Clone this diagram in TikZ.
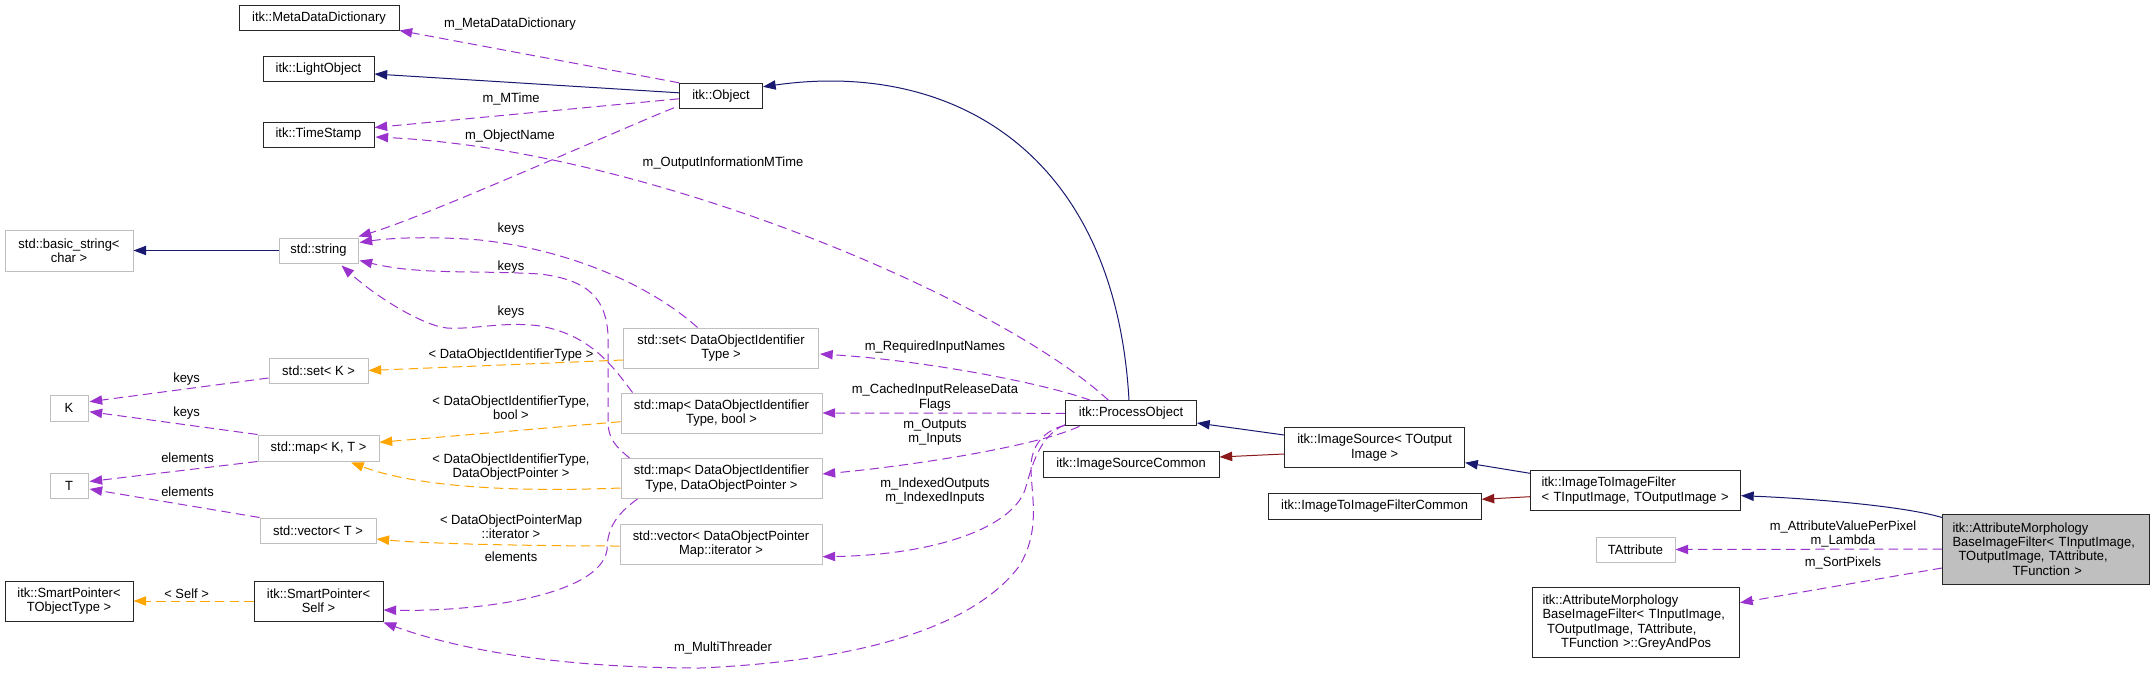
\documentclass[tikz,border=0pt]{standalone}
\usepackage{fontspec}
\setmainfont{Liberation Sans}[FakeStretch=0.97]
\usetikzlibrary{arrows.meta,calc}
\definecolor{navy}{HTML}{191970}
\definecolor{purp}{HTML}{9A32CD}
\definecolor{orng}{HTML}{FFA500}
\definecolor{dred}{HTML}{8B1A1A}
\definecolor{gborder}{HTML}{BFBFBF}
\definecolor{mainfill}{HTML}{BFBFBF}
\newcommand{\fsz}{\fontsize{10pt}{10.8pt}\selectfont}
\begin{document}
\begin{tikzpicture}[x=0.75pt,y=-0.75pt,
  base/.style={draw=black!85, line width=0.75pt, fill=white, inner sep=0pt, align=center, font=\fsz},
  ug/.style={base, draw=gborder},
  sz/.style 2 args={minimum width=#1*0.75pt, minimum height=#2*0.75pt},
  inh/.style={draw=navy, line width=0.75pt, -{Triangle[length=9.5pt,width=7pt]}},
  inhred/.style={inh, draw=dred},
  mem/.style={draw=purp, line width=0.75pt, dash pattern=on 7pt off 4pt, -{Triangle[length=9.5pt,width=7pt]}},
  tpl/.style={mem, draw=orng},
  lbl/.style={font=\fsz, inner sep=0pt, align=center}]
\fill[white] (0,0) rectangle (2155,674);
\useasboundingbox (0,0) rectangle (2155,674);

% nodes
\node[base, sz={160}{25}] (meta) at (319,18.5) {itk::MetaDataDictionary};
\node[base, sz={111}{25}] (light) at (318.5,69.5) {itk::LightObject};
\node[base, sz={111}{25}] (ts) at (318.5,134.5) {itk::TimeStamp};
\node[base, sz={83}{25}] (obj) at (721,95.8) {itk::Object};
\node[ug, sz={128}{41}] (bstr) at (69,250.5) {std::basic\_string<\\char >};
\node[ug, sz={79}{25}] (str) at (318.5,250.5) {std::string};
\node[ug, sz={195}{40}] (setdoi) at (721,348) {std::set< DataObjectIdentifier\\Type >};
\node[ug, sz={99}{25}] (setk) at (318.5,370.5) {std::set< K >};
\node[ug, sz={38}{26}] (K) at (69,408) {K};
\node[ug, sz={121}{26}] (mapkt) at (318.5,448) {std::map< K, T >};
\node[ug, sz={38}{25}] (T) at (69,485.5) {T};
\node[ug, sz={201}{40}] (mapbool) at (721.5,413) {std::map< DataObjectIdentifier\\Type, bool >};
\node[ug, sz={201}{40}] (mapdop) at (721.5,478.5) {std::map< DataObjectIdentifier\\Type, DataObjectPointer >};
\node[ug, sz={116}{25}] (vect) at (318,530.5) {std::vector< T >};
\node[ug, sz={202}{40}] (vecdop) at (721,544) {std::vector< DataObjectPointer\\Map::iterator >};
\node[base, sz={128}{40}] (spT) at (69,601) {itk::SmartPointer<\\TObjectType >};
\node[base, sz={129}{40}] (spS) at (318.5,601) {itk::SmartPointer<\\Self >};
\node[base, sz={131}{25}] (po) at (1131,413.3) {itk::ProcessObject};
\node[base, sz={176}{26}] (isc) at (1131,464) {itk::ImageSourceCommon};
\node[base, sz={180}{40}] (is) at (1374.6,447.7) {itk::ImageSource< TOutput\\Image >};
\node[base, sz={213}{26}] (itifc) at (1374.6,506) {itk::ImageToImageFilterCommon};
\node[base, text width=141pt, inner xsep=8.25pt, align=left, minimum height=30pt] (itif) at (1635.5,490.7) {\mbox{itk::ImageToImageFilter}\\\mbox{< TInputImage, TOutputImage >}};
\node[ug, sz={79}{25}] (tattr) at (1635.5,549.5) {TAttribute};
\node[base, text width=140.25pt, inner xsep=7.5pt, align=left, minimum height=52.5pt] (gap) at (1636,622.5) {\mbox{itk::AttributeMorphology}\\\mbox{BaseImageFilter< TInputImage,}\\\mbox{\hspace*{3.5pt}TOutputImage, TAttribute,}\\\mbox{\hspace*{14pt}TFunction >::GreyAndPos}};
\node[base, fill=mainfill, text width=140.25pt, inner xsep=7.5pt, align=left, minimum height=52.5pt] (main) at (2046,549) {\mbox{itk::AttributeMorphology}\\\mbox{BaseImageFilter< TInputImage,}\\\mbox{\hspace*{4.5pt}TOutputImage, TAttribute,}\\\mbox{\hspace*{45pt}TFunction >}};

% edges
\draw[inh] ($(obj.west)+(0,-3)$) -- ($(light.east)+(0,4.5)$);
\draw[mem] (obj.north west) -- ($(meta.south east)+(0,-1)$);
\draw[mem] ($(obj.west)+(0,3)$) -- ($(ts.east)+(0,-7)$);
\draw[mem] ($(obj.south west)+(-5,-1)$) .. controls (630,125) and (430,215) .. ($(str.north east)+(0,-1)$);
\draw[mem] ($(po.north west)+(43.5,0)$) .. controls (1000,300) and (650,150) .. ($(ts.east)+(1,2.5)$);
\draw[inh] ($(po.north)+(-2,0)$) .. controls (1115,150) and (950,60) .. ($(obj.east)+(0,-9)$);
\draw[mem] ($(setdoi.north west)+(74.5,0)$) .. controls (650,285) and (570,250) .. (480,240) .. controls (430,236) and (390,238) .. ($(str.east)+(1,-8)$);
\draw[mem] ($(mapdop.north west)+(9,0)$) .. controls (614,445) and (608,438) .. (608,420) -- (608,335) .. controls (606,300) and (590,280) .. (540,274) .. controls (470,270) and (420,275) .. ($(str.east)+(1,10)$);
\draw[mem] ($(mapbool.north west)+(12,0)$) .. controls (612,365) and (590,335) .. (540,326) .. controls (505,321) and (470,330) .. (447,328) .. controls (425,326) and (380,300) .. ($(str.south east)+(-17,2)$);
\draw[inh] (str.west) -- (bstr.east);
\draw[tpl] ($(setdoi.west)+(0,12)$) -- (setk.east);
\draw[mem] ($(setk.west)+(0,7.5)$) -- ($(K.east)+(1,-6.3)$);
\draw[mem] (mapkt.north west) -- ($(K.east)+(1,3.7)$);
\draw[mem] (mapkt.south west) -- ($(T.east)+(1,-4)$);
\draw[mem] (vect.north west) -- ($(T.east)+(1,3.5)$);
\draw[tpl] ($(mapbool.west)+(0,8.7)$) -- ($(mapkt.east)+(0,-5.7)$);
\draw[tpl] ($(mapdop.west)+(0,9.5)$) .. controls (520,492) and (420,488) .. ($(mapkt.south east)+(-28.5,1)$);
\draw[tpl] ($(vecdop.west)+(0,2)$) .. controls (540,546) and (430,544) .. ($(vect.east)+(0,8.5)$);
\draw[mem] ($(mapdop.south west)+(17,0)$) .. controls (615,515) and (607,530) .. (607,550) .. controls (600,595) and (480,612) .. ($(spS.east)+(0,9)$);
\draw[tpl] (spS.west) -- (spT.east);
\draw[mem] ($(po.south west)+(0,-1)$) .. controls (1045,430) and (1030,445) .. (1031,470) .. controls (1032,500) and (1040,530) .. (1020,565) .. controls (980,620) and (880,660) .. (700,668) .. controls (560,668) and (460,650) .. ($(spS.south east)+(0,1)$);
\draw[mem] ($(po.north west)+(25.5,0)$) .. controls (1040,382) and (920,360) .. ($(setdoi.east)+(1,6)$);
\draw[mem] (po.west) -- (mapbool.east);
\draw[mem] ($(po.south west)+(14.5,0)$) .. controls (1040,445) and (920,465) .. ($(mapdop.east)+(0,-4.5)$);
\draw[mem] ($(po.south west)+(0,-1.5)$) .. controls (1040,435) and (1032,465) .. (1025,490) .. controls (1010,530) and (930,555) .. ($(vecdop.east)+(0,12.7)$);
\draw[inh] ($(is.west)+(0,-12.7)$) -- ($(po.east)+(0,9.7)$);
\draw[inhred] ($(is.west)+(0,6.3)$) -- ($(isc.east)+(0,-7)$);
\draw[inh] ($(itif.west)+(0,-17.4)$) -- ($(is.east)+(0,15)$);
\draw[inhred] ($(itif.west)+(0,6)$) -- ($(itifc.east)+(0,-6.7)$);
\draw[inh] ($(main.north west)+(0,4)$) .. controls (1900,505) and (1800,498) .. ($(itif.east)+(0,5)$);
\draw[mem] (main.west) -- (tattr.east);
\draw[mem] ($(main.west)+(0,19)$) -- ($(gap.east)+(0,-19.8)$);

% labels
\node[lbl] (l1) at (510,24) {m\_MetaDataDictionary};
\node[lbl] (l2) at (511,99) {m\_MTime};
\node[lbl] (l3) at (510,136) {m\_ObjectName};
\node[lbl] (l4) at (723,163) {m\_OutputInformationMTime};
\node[lbl] (l5) at (511,229) {keys};
\node[lbl] (l6) at (511,267) {keys};
\node[lbl] (l7) at (511,312) {keys};
\node[lbl] (l8) at (511,355) {< DataObjectIdentifierType >};
\node[lbl] (l9) at (186.6,379) {keys};
\node[lbl] (l10) at (186.6,412.7) {keys};
\node[lbl] (l11) at (187.5,458) {elements};
\node[lbl] (l12) at (187.5,491.7) {elements};
\node[lbl] (l13) at (511,408) {< DataObjectIdentifierType,\\bool >};
\node[lbl] (l14) at (511,467) {< DataObjectIdentifierType,\\DataObjectPointer >};
\node[lbl] (l15) at (511,527) {< DataObjectPointerMap\\::iterator >};
\node[lbl] (l16) at (511,556.7) {elements};
\node[lbl] (l17) at (186.6,593.3) {< Self >};
\node[lbl] (l18) at (723,648) {m\_MultiThreader};
\node[lbl] (l19) at (935,347) {m\_RequiredInputNames};
\node[lbl] (l20) at (935,397.5) {m\_CachedInputReleaseData\\Flags};
\node[lbl] (l21) at (935,432) {m\_Outputs\\m\_Inputs};
\node[lbl] (l22) at (935,491) {m\_IndexedOutputs\\m\_IndexedInputs};
\node[lbl] (l23) at (1843,533.7) {m\_AttributeValuePerPixel\\m\_Lambda};
\node[lbl] (l24) at (1843,563.3) {m\_SortPixels};
\end{tikzpicture}
\end{document}
